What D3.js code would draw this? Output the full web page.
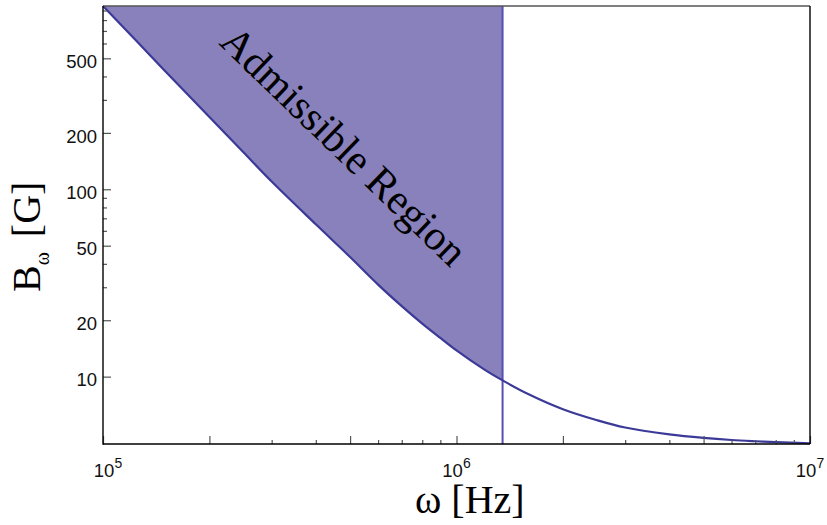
<!DOCTYPE html>
<html>
<head>
<meta charset="utf-8">
<script src="https://cdn.jsdelivr.net/npm/d3@7"></script>
<style>
  body { margin: 0; background: #fff; }
  svg { display: block; }
</style>
</head>
<body>
<svg id="chart"></svg>
<script>
// data
const omega = [1e5, 1.25e5, 1.5e5, 2e5, 2.5e5, 3e5, 4e5, 5e5, 6e5, 7e5, 8e5, 9e5, 1e6, 1.2e6,
               1.35e6, 1.6e6, 2e6, 2.5e6, 3e6, 4e6, 5e6, 6e6, 7e6, 8e6, 1e7];
const bField = [951, 613, 427, 243, 157, 110, 65, 43.5, 31, 23.8, 19.2, 16.1, 13.8, 10.9,
                9.55, 8.05, 6.7, 5.85, 5.35, 4.92, 4.71, 4.59, 4.52, 4.47, 4.41];
const cutoff = 1.35e6;   // right edge of the admissible region

const xMajor = [1e5, 2e5, 5e5, 1e6, 2e6, 5e6, 1e7];
const xMinor = [3e5, 4e5, 6e5, 7e5, 8e5, 9e5, 3e6, 4e6, 6e6, 7e6, 8e6, 9e6];
const xLabels = [[1e5, "5"], [1e6, "6"], [1e7, "7"]];
const yMajor = [10, 20, 50, 100, 200, 500];
const yMinor = [30, 40, 60, 70, 80, 90, 300, 400, 600, 700, 800, 900];

const width = 827, height = 525;
const pLeft = 103, pRight = 810, pTop = 6, pBottom = 444;

const svg = d3.select("#chart").attr("width", width).attr("height", height);

const x = d3.scaleLog().domain([1e5, 1e7]).range([pLeft, pRight]);
const y = d3.scaleLog().domain([4.37, 951]).range([pBottom, pTop]);

const pts = omega.map((w, i) => ({ w: w, b: bField[i] }));
const smooth = d3.curveCatmullRom.alpha(0.5);

// shaded region between curve and top, up to the cutoff
const region = pts.filter(d => d.w <= cutoff);
svg.append("path")
  .datum(region)
  .attr("fill", "#8881bb")
  .attr("d", d3.area()
    .x(d => x(d.w))
    .y0(pTop)
    .y1(d => y(d.b))
    .curve(smooth));

// vertical cutoff line
svg.append("line")
  .attr("x1", x(cutoff)).attr("x2", x(cutoff))
  .attr("y1", pTop).attr("y2", pBottom)
  .attr("stroke", "#5550b2")
  .attr("stroke-width", 2);

// curve
svg.append("path")
  .datum(pts)
  .attr("fill", "none")
  .attr("stroke", "#3c3a98")
  .attr("stroke-width", 2.2)
  .attr("d", d3.line()
    .x(d => x(d.w))
    .y(d => y(d.b))
    .curve(smooth));

// ticks (inward)
function tickAxis(axis, transform) {
  svg.append("g")
    .attr("transform", transform)
    .call(axis)
    .call(g => g.select(".domain").remove())
    .call(g => g.selectAll("line").attr("stroke", "#555").attr("stroke-width", 1.2));
}
tickAxis(d3.axisBottom(x).tickValues(xMajor).tickSize(-8).tickFormat(""), `translate(0,${pBottom})`);
tickAxis(d3.axisBottom(x).tickValues(xMinor).tickSize(-4).tickFormat(""), `translate(0,${pBottom})`);
tickAxis(d3.axisLeft(y).tickValues(yMajor).tickSize(-8).tickFormat(""), `translate(${pLeft},0)`);
tickAxis(d3.axisLeft(y).tickValues(yMinor).tickSize(-4).tickFormat(""), `translate(${pLeft},0)`);

// frame
svg.append("line").attr("x1", pLeft).attr("x2", pRight).attr("y1", pTop).attr("y2", pTop)
  .attr("stroke", "#555").attr("stroke-width", 1.6);
svg.append("line").attr("x1", pRight).attr("x2", pRight).attr("y1", pTop).attr("y2", pBottom)
  .attr("stroke", "#000").attr("stroke-width", 1.4);
svg.append("line").attr("x1", pLeft).attr("x2", pLeft).attr("y1", pTop).attr("y2", pBottom + 0.7)
  .attr("stroke", "#000").attr("stroke-width", 1.4);
svg.append("line").attr("x1", pLeft).attr("x2", pRight).attr("y1", pBottom).attr("y2", pBottom)
  .attr("stroke", "#000").attr("stroke-width", 1.4);

// tick labels
const tickFont = "'Liberation Sans', Arial, sans-serif";
svg.append("g").selectAll("text")
  .data(yMajor)
  .join("text")
  .attr("x", 97)
  .attr("y", d => y(d) + 9.7)
  .attr("text-anchor", "end")
  .attr("font-family", tickFont)
  .attr("font-size", 18.5)
  .attr("fill", "#111")
  .text(d => d);

const xl = svg.append("g").selectAll("text")
  .data(xLabels)
  .join("text")
  .attr("x", (d, i) => x(d[0]) + (i === 0 ? 5 : 0))
  .attr("y", 477)
  .attr("text-anchor", "middle")
  .attr("font-family", tickFont)
  .attr("font-size", 18.5)
  .attr("fill", "#111");
xl.append("tspan").text("10");
xl.append("tspan").attr("dy", -9).attr("font-size", 14).text(d => d[1]);

// axis titles
const serif = "'Liberation Serif', 'Times New Roman', serif";
svg.append("text")
  .attr("x", 415)
  .attr("y", 513)
  .attr("font-family", serif)
  .attr("font-size", 40)
  .attr("fill", "#000")
  .text("ω [Hz]");

const yt = svg.append("text")
  .attr("transform", "translate(40,292) rotate(-90)")
  .attr("font-family", serif)
  .attr("font-size", 40)
  .attr("fill", "#000");
yt.append("tspan").text("B");
yt.append("tspan").attr("font-size", 20).attr("dy", 9).text("ω");
yt.append("tspan").attr("dy", -9).attr("dx", 15).text("[G]");

// region label
svg.append("text")
  .attr("transform", "translate(344,146) rotate(44)")
  .attr("text-anchor", "middle")
  .attr("dominant-baseline", "central")
  .attr("font-family", serif)
  .attr("font-size", 42)
  .attr("fill", "#000")
  .text("Admissible Region");
</script>
</body>
</html>
